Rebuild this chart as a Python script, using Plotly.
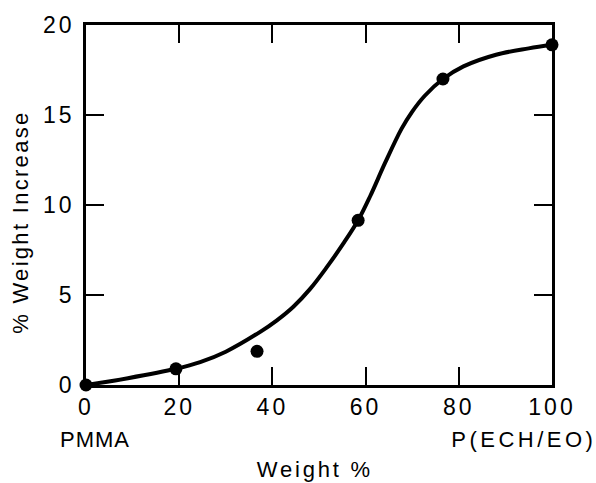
import plotly.graph_objects as go

# measured points
pt_x = [0, 19.3, 36.7, 58.4, 76.6, 100]
pt_y = [0, 0.9, 1.87, 9.15, 17.0, 18.9]

# smooth fitted curve
curve_x = [0, 9, 19.3, 24.5, 30, 37.3, 40.9, 44.5, 48.1, 51.6, 55.2, 58.4, 61.0, 64.2, 67.7, 69.9, 72.7, 76.6, 81, 88, 95, 100]
curve_y = [0, 0.38, 0.9, 1.27, 1.85, 2.94, 3.58, 4.35, 5.34, 6.52, 7.85, 9.15, 10.5, 12.35, 14.23, 15.15, 16.07, 17.0, 17.7, 18.35, 18.7, 18.9]

x_ticks = [0, 20, 40, 60, 80, 100]
y_ticks = [0, 5, 10, 15, 20]

FONT = "Liberation Sans"

fig = go.Figure()
fig.add_trace(go.Scatter(x=curve_x, y=curve_y, mode="lines", line=dict(color="black", width=4, shape="spline"),
                         cliponaxis=False, showlegend=False, hoverinfo="skip"))
fig.add_trace(go.Scatter(x=pt_x, y=pt_y, mode="markers", marker=dict(color="black", size=13),
                         cliponaxis=False, showlegend=False))

axis_common = dict(showgrid=False, zeroline=False, showline=True, linecolor="black", linewidth=2.5,
                   mirror="ticks", ticks="inside", ticklen=18, tickwidth=1.5, tickcolor="black",
                   tickfont=dict(family=FONT, size=23, color="black"))

fig.update_layout(
    width=596, height=483,
    margin=dict(l=86, r=44, t=22, b=98),
    plot_bgcolor="white", paper_bgcolor="white",
    xaxis=dict(range=[0, 100], tickvals=x_ticks, **axis_common),
    yaxis=dict(range=[0, 20], tickvals=y_ticks, ticklabelstandoff=4, **axis_common),
    annotations=[
        dict(text="PMMA", xref="paper", yref="paper", x=0.019, y=-0.1515, showarrow=False,
             xanchor="center", yanchor="middle", font=dict(family=FONT, size=22, color="black")),
        dict(text="P(ECH/EO)", xref="paper", yref="paper", x=0.94, y=-0.1515, showarrow=False,
             xanchor="center", yanchor="middle", font=dict(family=FONT, size=22, color="black")),
        dict(text="Weight %", xref="paper", yref="paper", x=0.491, y=-0.234, showarrow=False,
             xanchor="center", yanchor="middle", font=dict(family=FONT, size=22, color="black")),
        dict(text="% Weight Increase", xref="paper", yref="paper", x=-0.1416, y=0.452, showarrow=False,
             textangle=-90, xanchor="center", yanchor="middle", font=dict(family=FONT, size=22, color="black")),
    ],
)

post = """
var gd = document.getElementById('{plot_id}');
function ls(){
  gd.querySelectorAll('.xtick text, .ytick text').forEach(function(t){ t.style.letterSpacing = '3px'; });
  var sp = {'PMMA': '1px', 'P(ECH/EO)': '3.5px', 'Weight %': '2.8px', '% Weight Increase': '2.3px'};
  gd.querySelectorAll('.annotation-text').forEach(function(t){
    var s = sp[t.textContent.trim()];
    if (s) { t.style.letterSpacing = s; }
  });
}
ls();
gd.on('plotly_afterplot', ls);
"""

fig.write_html("out.html", post_script=post)
